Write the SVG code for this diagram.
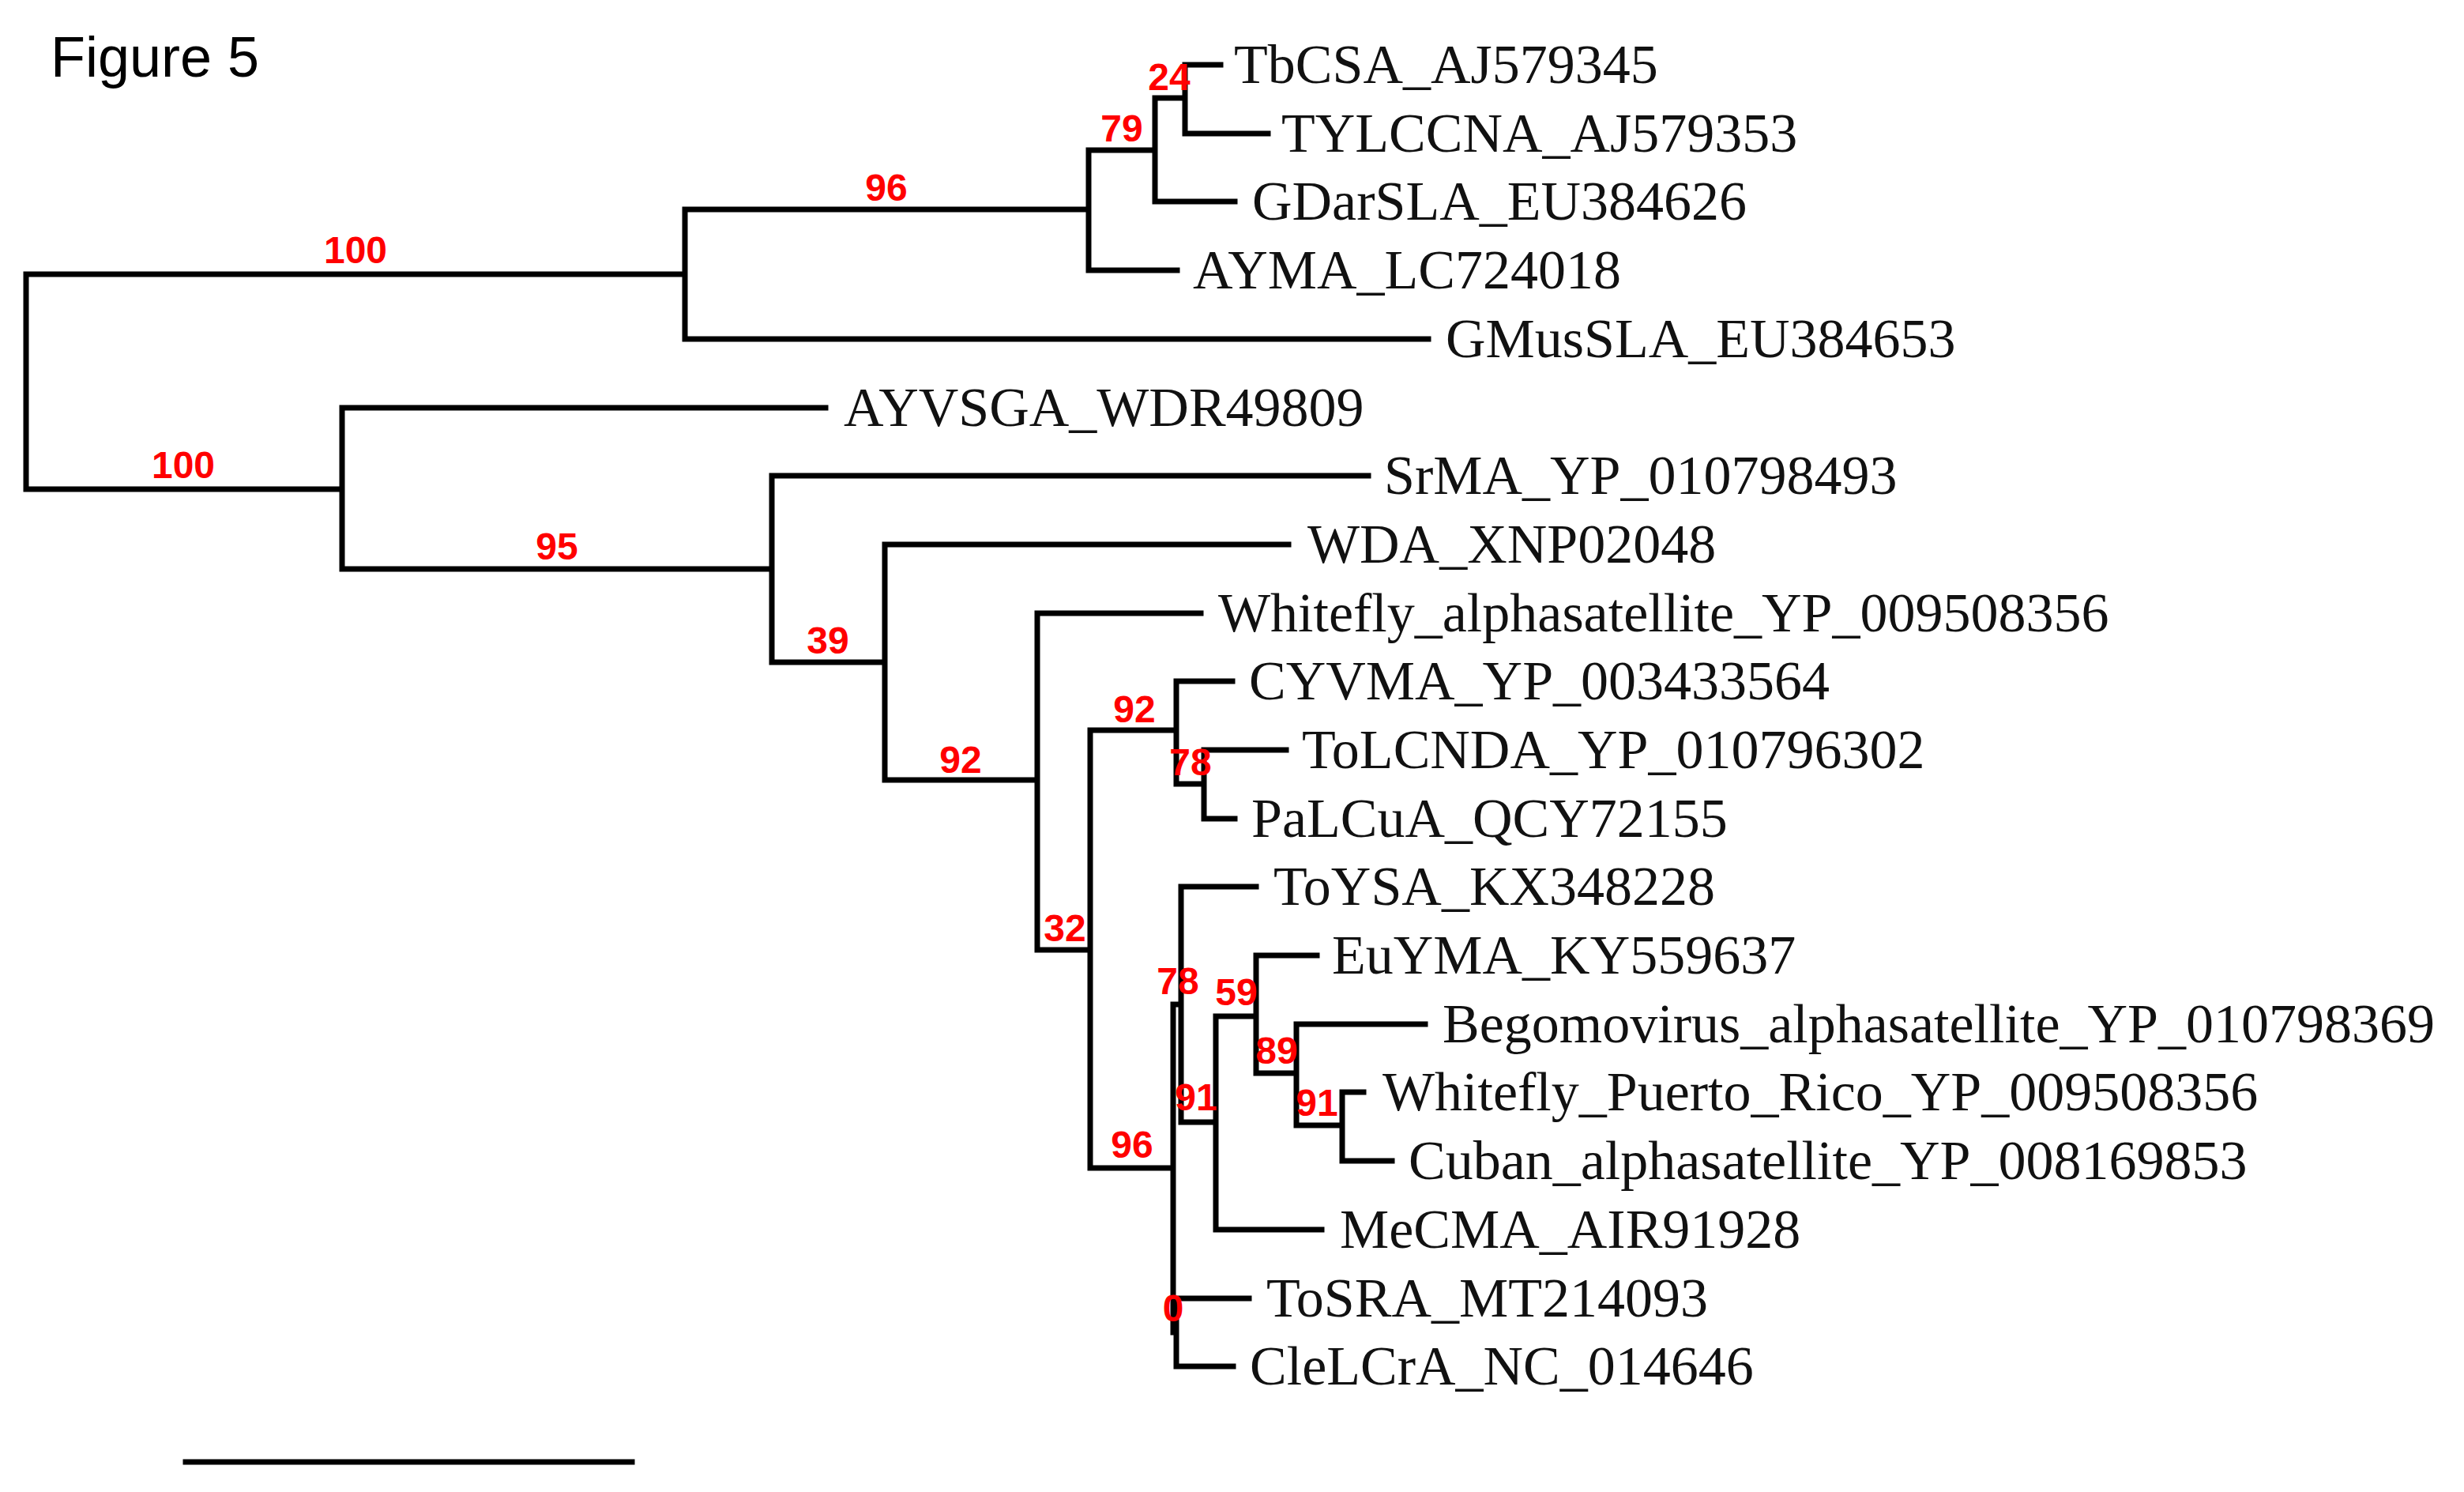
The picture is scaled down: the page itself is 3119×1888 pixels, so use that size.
<svg xmlns="http://www.w3.org/2000/svg" width="3119" height="1888" viewBox="0 0 3119 1888">
<style>
.e{stroke:#000;stroke-width:7;fill:none;stroke-linecap:square}
.l{font-family:"Liberation Serif",serif;font-size:70px;fill:#111}
.b{font-family:"Liberation Sans",sans-serif;font-size:48px;font-weight:bold;fill:#f00;text-anchor:middle}
</style>
<rect width="3119" height="1888" fill="#fff"/>
<text x="64" y="97" font-family="Liberation Sans,sans-serif" font-size="72" fill="#000">Figure  5</text>
<g id="connectors">
<path class="e" d="M33 347V619M33 347H867M33 619H433
M867 265V429M867 265H1378M867 429H1808
M1378 190V342M1378 190H1462M1378 342H1490
M1462 124V255M1462 124H1500M1462 255H1563
M1500 82V169M1500 82H1545M1500 169H1605
M433 516V720M433 516H1045M433 720H977
M977 602V838M977 602H1732M977 838H1120
M1120 689V987M1120 689H1631M1120 987H1313
M1313 776V1202M1313 776H1520M1313 1202H1380
M1380 924V1478M1380 924H1489M1380 1478H1485
M1489 862V992M1489 862H1560M1489 992H1524
M1524 949V1036M1524 949H1628M1524 1036H1563
M1485 1271V1686M1485 1271H1495M1485 1686H1489
M1489 1643V1729M1489 1643H1581M1489 1729H1561
M1495 1122V1420M1495 1122H1590M1495 1420H1539
M1539 1286V1556M1539 1286H1590M1539 1556H1673
M1590 1209V1358M1590 1209H1667M1590 1358H1641
M1641 1296V1424M1641 1296H1804M1641 1424H1699
M1699 1382V1469M1699 1382H1726M1699 1469H1762
M235 1850H800"/>
</g>
<g id="leaves">
<text class="l" x="1562" y="105">TbCSA_AJ579345</text>
<text class="l" x="1622" y="192">TYLCCNA_AJ579353</text>
<text class="l" x="1585" y="278">GDarSLA_EU384626</text>
<text class="l" x="1510" y="365">AYMA_LC724018</text>
<text class="l" x="1830" y="452">GMusSLA_EU384653</text>
<text class="l" x="1068" y="539">AYVSGA_WDR49809</text>
<text class="l" x="1752" y="625">SrMA_YP_010798493</text>
<text class="l" x="1655" y="712">WDA_XNP02048</text>
<text class="l" x="1542" y="799">Whitefly_alphasatellite_YP_009508356</text>
<text class="l" x="1581" y="885">CYVMA_YP_003433564</text>
<text class="l" x="1648" y="972">ToLCNDA_YP_010796302</text>
<text class="l" x="1584" y="1059">PaLCuA_QCY72155</text>
<text class="l" x="1612" y="1145">ToYSA_KX348228</text>
<text class="l" x="1686" y="1232">EuYMA_KY559637</text>
<text class="l" x="1826" y="1319">Begomovirus_alphasatellite_YP_010798369</text>
<text class="l" x="1750" y="1405">Whitefly_Puerto_Rico_YP_009508356</text>
<text class="l" x="1783" y="1492">Cuban_alphasatellite_YP_008169853</text>
<text class="l" x="1696" y="1579">MeCMA_AIR91928</text>
<text class="l" x="1603" y="1666">ToSRA_MT214093</text>
<text class="l" x="1582" y="1752">CleLCrA_NC_014646</text>
</g>
<g id="support">
<text class="b" x="450" y="333">100</text>
<text class="b" x="1122" y="254">96</text>
<text class="b" x="1420" y="179">79</text>
<text class="b" x="1480" y="114">24</text>
<text class="b" x="232" y="605">100</text>
<text class="b" x="705" y="708">95</text>
<text class="b" x="1048" y="827">39</text>
<text class="b" x="1216" y="978">92</text>
<text class="b" x="1436" y="914">92</text>
<text class="b" x="1507" y="981">78</text>
<text class="b" x="1348" y="1191">32</text>
<text class="b" x="1491" y="1258">78</text>
<text class="b" x="1565" y="1272">59</text>
<text class="b" x="1616" y="1346">89</text>
<text class="b" x="1514" y="1405">91</text>
<text class="b" x="1667" y="1412">91</text>
<text class="b" x="1433" y="1465">96</text>
<text class="b" x="1485" y="1672">0</text>
</g>
</svg>
